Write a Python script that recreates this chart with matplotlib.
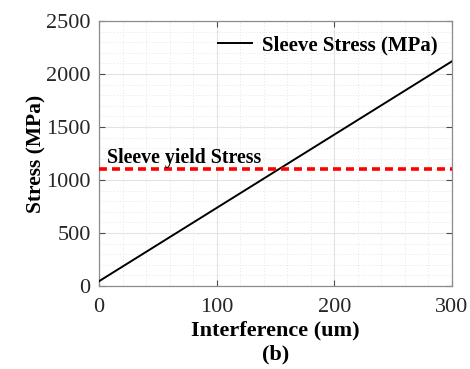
import matplotlib
matplotlib.use("Agg")
import matplotlib.pyplot as plt
from matplotlib.ticker import MultipleLocator

# Data
interference_um = [0, 300]
sleeve_stress_mpa = [45, 2120]
yield_stress_mpa = 1100

plt.rcParams['font.family'] = ['Liberation Serif', 'DejaVu Serif']

fig = plt.figure(figsize=(4.70, 3.69), dpi=100)
ax = fig.add_axes([99 / 470, 1 - 286 / 369, (452 - 99) / 470, (286 - 21) / 369])

ax.plot(interference_um, sleeve_stress_mpa, color='black', lw=1.4,
        label='Sleeve Stress (MPa)', zorder=3)
ax.axhline(yield_stress_mpa, color='#ff0000', lw=2.6, ls=(0, (2.2, 1.4)), zorder=3)
ax.text(7, 1165, 'Sleeve yield Stress', fontsize=14.3, fontweight='bold',
        ha='left', va='baseline')

ax.set_xlim(0, 300)
ax.set_ylim(0, 2500)
ax.xaxis.set_major_locator(MultipleLocator(100))
ax.xaxis.set_minor_locator(MultipleLocator(20))
ax.yaxis.set_major_locator(MultipleLocator(500))
ax.yaxis.set_minor_locator(MultipleLocator(100))

ax.grid(which='major', color='#e3e3e3', lw=0.8, ls='-')
ax.grid(which='minor', color='#e6e6e6', lw=0.7, ls=(0, (1, 2)))
ax.set_axisbelow(True)

ax.tick_params(which='both', direction='in', top=True, right=True,
               colors='#4d4d4d', labelcolor='#262626', labelsize=16)
ax.tick_params(axis='x', pad=9)
ax.tick_params(axis='y', pad=6)
ax.tick_params(which='major', length=4)
ax.tick_params(which='minor', length=0)
for s in ax.spines.values():
    s.set_color('#8c8c8c')
    s.set_linewidth(0.9)

ax.set_xlabel('Interference (um)\n(b)', fontsize=16, fontweight='bold',
              labelpad=2, linespacing=1.25)
ax.set_ylabel('Stress (MPa)', fontsize=15.5, fontweight='bold', labelpad=0)

leg = ax.legend(loc='upper right', frameon=False,
                prop={'weight': 'bold', 'size': 15}, handlelength=1.65,
                handletextpad=0.45, borderaxespad=0.3)

fig.savefig('out.png', dpi=100)
